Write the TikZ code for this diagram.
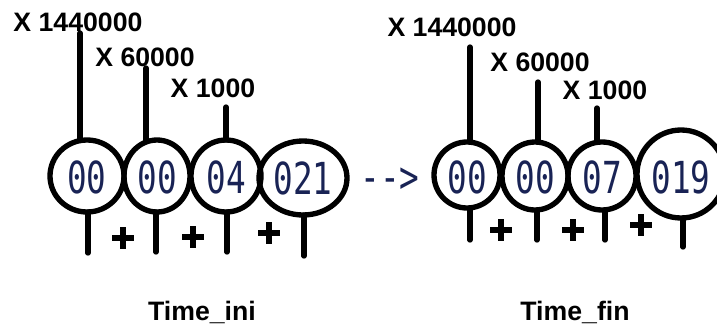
\documentclass[tikz,border=0pt]{standalone}
\usepackage{fontspec}
\usepackage{graphicx}
\setmainfont{Liberation Sans}
\newfontfamily\digfont{DejaVu Sans Mono}
\newcommand{\talltxt}[1]{\scalebox{1}[1.35]{#1}}
\begin{document}
\begin{tikzpicture}[x=0.75pt,y=-0.75pt,
  ring/.style={draw=black,line width=4pt},
  stem/.style={draw=black,line width=4pt,line cap=round},
  plusmark/.style={draw=black,line width=5.2pt},
  lab/.style={font=\fontsize{20}{22}\selectfont\bfseries,text=black,inner sep=0pt},
  dig/.style={font=\digfont\fontsize{24.5}{26}\selectfont,text={rgb,255:red,25;green,35;blue,85},inner sep=0pt}]
\useasboundingbox (0,0) rectangle (717,325);
% ---------- left group ----------
\node[dig] (d1) at (87,177) {\talltxt{00}};
\node[dig] (d2) at (157,177) {\talltxt{00}};
\node[dig] (d3) at (226,177) {\talltxt{04}};
\node[dig] (d4) at (303,178) {\talltxt{021}};
\draw[ring] (87,176) ellipse [x radius=37,y radius=36];
\draw[ring] (157,176) ellipse [x radius=33,y radius=36];
\draw[ring] (226,176) ellipse [x radius=35,y radius=36];
\draw[ring] (303,178) ellipse [x radius=44,y radius=37];
\coordinate (a1t) at (80,33);   \coordinate (a1b) at (80,140);
\coordinate (a2t) at (146,68);  \coordinate (a2b) at (146,140);
\coordinate (a3t) at (226,107); \coordinate (a3b) at (226,140);
\draw[stem] (a1t) -- (a1b);
\draw[stem] (a2t) -- (a2b);
\draw[stem] (a3t) -- (a3b);
\coordinate (b1t) at (88,212);  \coordinate (b1b) at (88,253);
\coordinate (b2t) at (156,212); \coordinate (b2b) at (156,252);
\coordinate (b3t) at (227,212); \coordinate (b3b) at (227,252);
\coordinate (b4t) at (304,215); \coordinate (b4b) at (304,256);
\draw[stem] (b1t) -- (b1b);
\draw[stem] (b2t) -- (b2b);
\draw[stem] (b3t) -- (b3b);
\draw[stem] (b4t) -- (b4b);
\foreach \px/\py in {123/238,193/237,269/233}{
  \draw[plusmark] (\px-11,\py) -- (\px+11,\py) (\px,\py-11) -- (\px,\py+11);
}
\node[lab] (l1) at (78,22) {X 1440000};
\node[lab] (l2) at (145,57) {X 60000};
\node[lab] (l3) at (213,88) {X 1000};
\node[lab] (t1) at (202,312) {Time\_ini};
% ---------- arrow text ----------
\node[dig] (arr) at (390,180) {\talltxt{-{}->}};
% ---------- right group ----------
\node[dig] (e1) at (467,177) {\talltxt{00}};
\node[dig] (e2) at (535,177) {\talltxt{00}};
\node[dig] (e3) at (602,177) {\talltxt{07}};
\node[dig] (e4) at (681,177) {\talltxt{019}};
\draw[ring] (467,175) ellipse [x radius=33,y radius=33];
\draw[ring] (535,176) ellipse [x radius=33,y radius=34];
\draw[ring] (602,176) ellipse [x radius=34,y radius=34];
\draw[ring] (681,174) ellipse [x radius=44,y radius=44];
\coordinate (f1t) at (470,47);  \coordinate (f1b) at (470,142);
\coordinate (f2t) at (538,82);  \coordinate (f2b) at (538,142);
\coordinate (f3t) at (597,108); \coordinate (f3b) at (597,142);
\draw[stem] (f1t) -- (f1b);
\draw[stem] (f2t) -- (f2b);
\draw[stem] (f3t) -- (f3b);
\coordinate (g1t) at (470,208); \coordinate (g1b) at (470,240);
\coordinate (g2t) at (537,210); \coordinate (g2b) at (537,240);
\coordinate (g3t) at (605,210); \coordinate (g3b) at (605,240);
\coordinate (g4t) at (683,218); \coordinate (g4b) at (683,247);
\draw[stem] (g1t) -- (g1b);
\draw[stem] (g2t) -- (g2b);
\draw[stem] (g3t) -- (g3b);
\draw[stem] (g4t) -- (g4b);
\foreach \px/\py in {501/230,573/230,641/225}{
  \draw[plusmark] (\px-11,\py) -- (\px+11,\py) (\px,\py-11) -- (\px,\py+11);
}
\node[lab] (m1) at (452,27) {X 1440000};
\node[lab] (m2) at (540,62) {X 60000};
\node[lab] (m3) at (605,90) {X 1000};
\node[lab] (t2) at (575,312) {Time\_fin};
\end{tikzpicture}
\end{document}
